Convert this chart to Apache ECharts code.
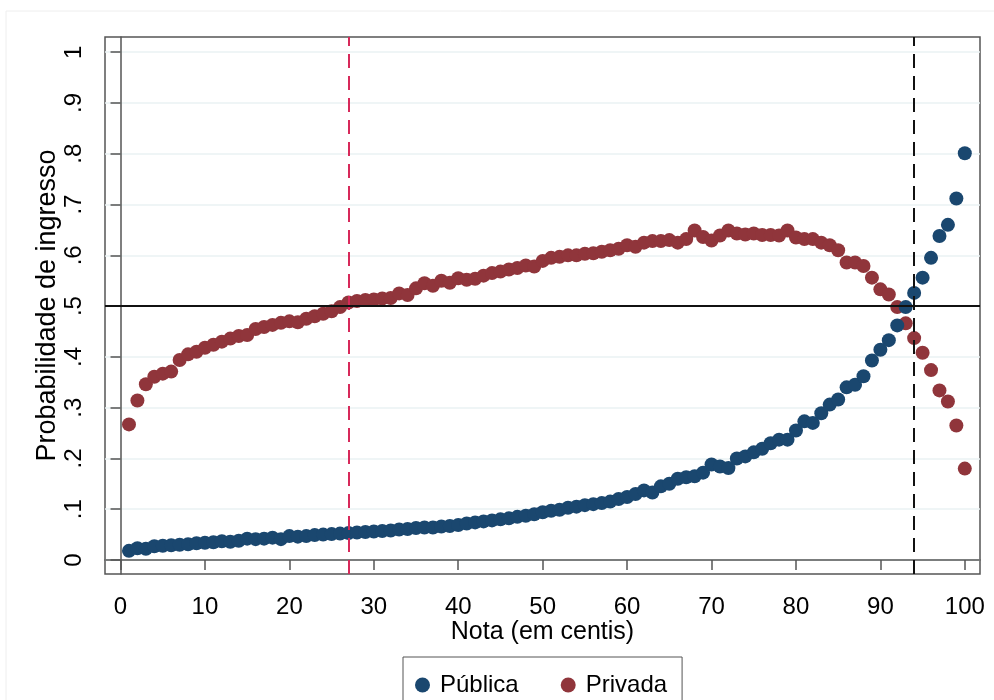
<!DOCTYPE html>
<html>
<head>
<meta charset="utf-8">
<script src="https://cdn.jsdelivr.net/npm/echarts@6/dist/echarts.min.js"></script>
<style>
html,body{margin:0;padding:0;background:#fff;}
#chart{width:994px;height:700px;}
</style>
</head>
<body>
<div id="chart"></div>
<script>
// Nota (em centis) 1..100
const notas = [1,2,3,4,5,6,7,8,9,10,11,12,13,14,15,16,17,18,19,20,21,22,23,24,25,26,27,28,29,30,31,32,33,34,35,36,37,38,39,40,41,42,43,44,45,46,47,48,49,50,51,52,53,54,55,56,57,58,59,60,61,62,63,64,65,66,67,68,69,70,71,72,73,74,75,76,77,78,79,80,81,82,83,84,85,86,87,88,89,90,91,92,93,94,95,96,97,98,99,100];
const publica = [0.018,0.023,0.022,0.027,0.028,0.029,0.030,0.031,0.033,0.034,0.035,0.037,0.036,0.038,0.042,0.041,0.042,0.044,0.041,0.047,0.046,0.047,0.049,0.050,0.051,0.052,0.053,0.054,0.055,0.056,0.057,0.058,0.060,0.061,0.063,0.064,0.064,0.066,0.067,0.069,0.072,0.074,0.076,0.078,0.080,0.082,0.085,0.087,0.090,0.094,0.097,0.099,0.103,0.105,0.108,0.110,0.112,0.115,0.120,0.124,0.130,0.137,0.133,0.145,0.150,0.160,0.163,0.165,0.172,0.188,0.184,0.181,0.200,0.204,0.212,0.219,0.230,0.237,0.237,0.255,0.273,0.270,0.289,0.306,0.316,0.340,0.345,0.362,0.393,0.414,0.433,0.462,0.498,0.526,0.556,0.595,0.638,0.660,0.712,0.801];
const privada = [0.267,0.314,0.346,0.361,0.367,0.371,0.394,0.405,0.410,0.418,0.424,0.430,0.436,0.441,0.443,0.455,0.459,0.463,0.467,0.470,0.468,0.475,0.480,0.485,0.490,0.498,0.507,0.510,0.512,0.513,0.515,0.516,0.525,0.522,0.535,0.545,0.540,0.550,0.546,0.555,0.552,0.554,0.560,0.565,0.568,0.572,0.575,0.580,0.578,0.589,0.595,0.597,0.600,0.600,0.603,0.604,0.607,0.610,0.613,0.620,0.617,0.625,0.628,0.628,0.630,0.625,0.632,0.649,0.636,0.629,0.639,0.649,0.643,0.641,0.643,0.640,0.640,0.639,0.649,0.635,0.632,0.632,0.625,0.620,0.610,0.586,0.586,0.579,0.556,0.533,0.523,0.498,0.466,0.437,0.408,0.374,0.334,0.312,0.265,0.180];
const seriesNames = ['Pública','Privada'];
const xTickValues = [0,10,20,30,40,50,60,70,80,90,100];
const xTickLabels = ['0','10','20','30','40','50','60','70','80','90','100'];
const yTickValues = [0,0.1,0.2,0.3,0.4,0.5,0.6,0.7,0.8,0.9,1];
const yTickLabels = ['0','.1','.2','.3','.4','.5','.6','.7','.8','.9','1'];
const refX = [27, 94];
const refY = 0.5;

const font = 'Liberation Sans, Arial, sans-serif';
const chart = echarts.init(document.getElementById('chart'), null, {renderer:'canvas'});
const pubData = notas.map((x,i)=>[x, publica[i]]);
const priData = notas.map((x,i)=>[x, privada[i]]);

chart.setOption({
  animation:false,
  backgroundColor:'#fff',
  graphic:[{type:'rect', shape:{x:6,y:11,width:1000,height:700}, style:{fill:'none', stroke:'#eeeeee', lineWidth:1}, silent:true, z:-1}],
  grid:{left:105, top:37, right:14, bottom:126, show:true, borderColor:'#555', borderWidth:1.5, backgroundColor:'transparent'},
  legend:{
    left:403, top:657, orient:'horizontal',
    data:seriesNames,
    icon:'circle', itemWidth:15, itemHeight:15, itemGap:42,
    borderColor:'#555', borderWidth:1, padding:[16,15,14,12],
    textStyle:{fontFamily:font, fontSize:24, color:'#000', padding:[0,0,0,5]}
  },
  xAxis:{
    type:'value', min:-1.84, max:101.8,
    name:'Nota (em centis)', nameLocation:'middle', nameGap:46, nameMoveOverlap:false,
    nameTextStyle:{fontFamily:font, fontSize:25, color:'#000'},
    axisLine:{show:true, lineStyle:{color:'#555', width:1.5}},
    axisTick:{show:true, length:10, customValues:xTickValues, lineStyle:{color:'#555', width:1.5}},
    axisLabel:{customValues:xTickValues, fontFamily:font, fontSize:24, color:'#000', margin:21,
      formatter:(v)=>{const i=xTickValues.indexOf(Math.round(v)); return i>=0?xTickLabels[i]:'';}},
    splitLine:{show:false}
  },
  yAxis:{
    type:'value', min:-0.0276, max:1.030,
    name:'Probabilidade de ingresso', nameLocation:'middle', nameGap:44, nameRotate:90, nameMoveOverlap:false,
    nameTextStyle:{fontFamily:font, fontSize:27, color:'#000'},
    axisLine:{show:true, lineStyle:{color:'#555', width:1.5}},
    axisTick:{show:true, length:10, customValues:yTickValues, lineStyle:{color:'#555', width:1.5}},
    axisLabel:{customValues:yTickValues, rotate:90, fontFamily:font, fontSize:24, color:'#000', margin:19,
      formatter:(v)=>{const i=yTickValues.findIndex(t=>Math.abs(t-v)<1e-6); return i>=0?yTickLabels[i]:'';}},
    splitLine:{show:true, lineStyle:{color:'#eaf2f3', width:1.5}}
  },
  series:[
    {name:seriesNames[0], type:'scatter', data:pubData, symbolSize:14,
     itemStyle:{color:'#1a476f', opacity:1}, z:3},
    {name:seriesNames[1], type:'scatter', data:priData, symbolSize:14,
     itemStyle:{color:'#90353b', opacity:1}, z:2,
     markLine:{silent:true, symbol:'none', label:{show:false}, animation:false,
       data:[
         {xAxis:refX[0], lineStyle:{color:'#d7295a', width:2, type:[14,8]}},
         {xAxis:refX[1], lineStyle:{color:'#111', width:2, type:[14,8]}},
         {yAxis:refY, lineStyle:{color:'#111', width:2, type:'solid'}}
       ]}}
  ]
});
</script>
</body>
</html>
